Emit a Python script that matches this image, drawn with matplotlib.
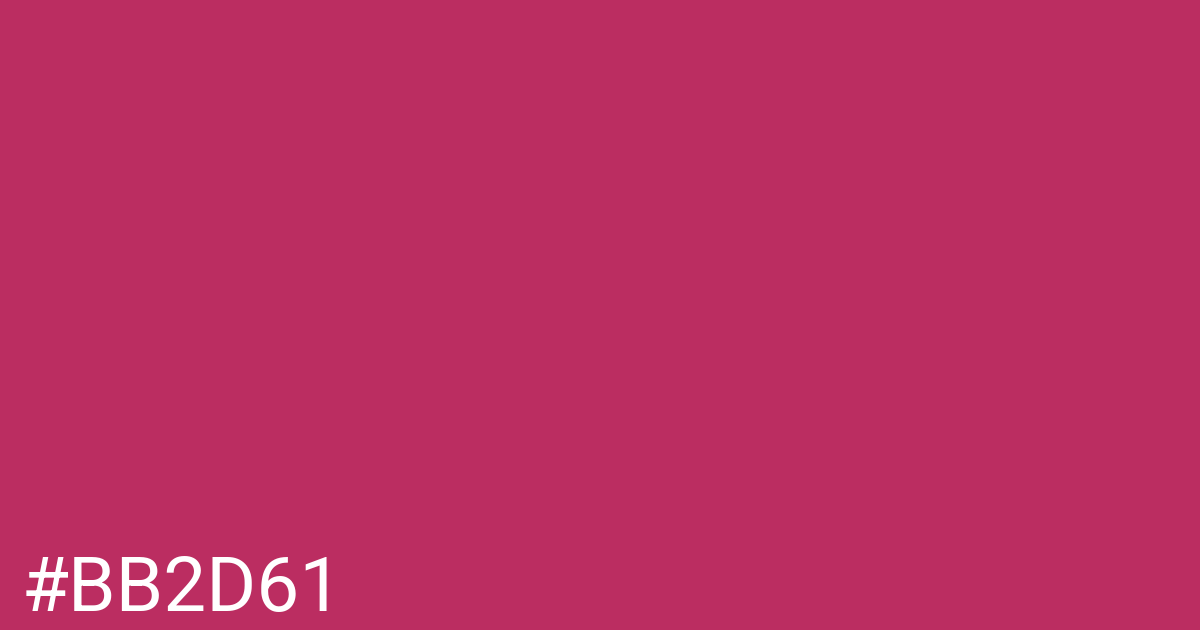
import matplotlib
matplotlib.use("Agg")
import matplotlib.pyplot as plt

# swatch data
swatch_hex = "#BB2D61"
label_text = "#BB2D61"

W, H = 1200, 630

fig = plt.figure(figsize=(W / 100, H / 100), dpi=100)
fig.patch.set_facecolor(swatch_hex)

fig.text(22 / W, 19 / H, label_text, color="white", family=["Roboto", "DejaVu Sans"],
         fontsize=55, ha="left", va="baseline")

fig.savefig("out.png", dpi=100, facecolor=fig.get_facecolor())
